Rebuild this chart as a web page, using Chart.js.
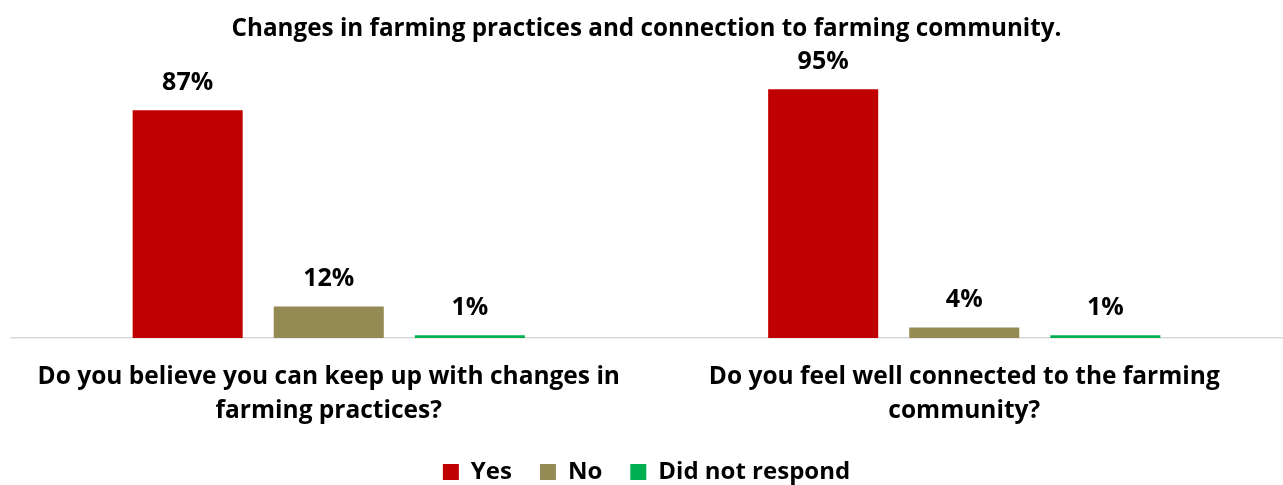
<!DOCTYPE html>
<html>
<head>
<meta charset="utf-8">
<script src="https://cdn.jsdelivr.net/npm/chart.js@4.4.1/dist/chart.umd.min.js"></script>
<style>
  html, body { margin: 0; padding: 0; background: #fff; }
  #wrap { width: 1283px; height: 485px; position: relative; }
</style>
</head>
<body>
<div id="wrap"><canvas id="c"></canvas></div>
<script>
const titleText = "Changes in farming practices and connection to farming community.";
const categories = [
  ["Do you believe you can keep up with changes in", "farming practices?"],
  ["Do you feel well connected to the farming", "community?"]
];
const seriesNames = ["Yes", "No", "Did not respond"];
const yesValues = [87, 95];
const noValues = [12, 4];
const noResponseValues = [1, 1];

const FONT = "'Open Sans', 'Liberation Sans', Arial, sans-serif";

// Percentage labels drawn above each bar
const valueLabels = {
  id: 'valueLabels',
  afterDatasetsDraw(chart) {
    const ctx = chart.ctx;
    ctx.save();
    ctx.font = "bold 25px " + FONT;
    ctx.fillStyle = "#000";
    ctx.textAlign = "center";
    ctx.textBaseline = "alphabetic";
    chart.data.datasets.forEach((ds, i) => {
      chart.getDatasetMeta(i).data.forEach((bar, j) => {
        ctx.fillText(ds.data[j] + "%", bar.x, bar.y - 20);
      });
    });
    ctx.restore();
  }
};

new Chart(document.getElementById('c'), {
  type: 'bar',
  data: {
    labels: categories,
    datasets: [
      { label: seriesNames[0], data: yesValues, backgroundColor: "#C00000" },
      { label: seriesNames[1], data: noValues, backgroundColor: "#948A54" },
      { label: seriesNames[2], data: noResponseValues, backgroundColor: "#00B050" }
    ]
  },
  options: {
    responsive: true,
    maintainAspectRatio: false,
    animation: false,
    categoryPercentage: 0.666,
    barPercentage: 0.78,
    layout: { padding: { left: 11, right: 1, top: 0, bottom: -9 } },
    plugins: {
      title: {
        display: true,
        text: titleText,
        color: "#000",
        font: { family: FONT, size: 24.25, weight: "bold" },
        padding: { top: 14.5, bottom: 32.5 }
      },
      legend: {
        position: "bottom",
        labels: {
          color: "#000",
          font: { family: FONT, size: 24, weight: "bold" },
          boxWidth: 16,
          boxHeight: 16,
          padding: 28
        }
      },
      tooltip: { enabled: false }
    },
    scales: {
      x: {
        grid: { display: false },
        border: { display: true, color: "#D9D9D9", width: 1.5 },
        ticks: {
          color: "#000",
          font: { family: FONT, size: 24.5, weight: "bold", lineHeight: 1.39 },
          padding: 14,
          maxRotation: 0,
          autoSkip: false
        },
        // tighten the gap between the category labels and the legend
        afterFit(scale) { scale.height -= 10; }
      },
      y: {
        display: false,
        min: 0,
        max: 100
      }
    }
  },
  plugins: [valueLabels]
});
</script>
</body>
</html>
